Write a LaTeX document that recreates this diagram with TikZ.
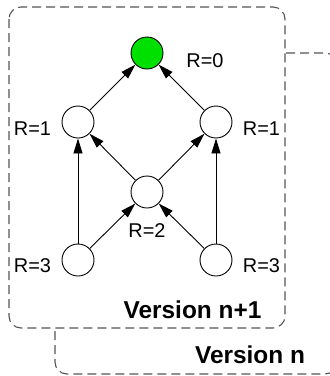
\documentclass[tikz,border=0pt]{standalone}
\usepackage{fontspec}
\setmainfont{Liberation Sans}
\usetikzlibrary{arrows.meta}
\definecolor{boxgray}{HTML}{555555}
\definecolor{nodegreen}{HTML}{00E000}
\begin{document}
\begin{tikzpicture}[x=1bp,y=-1bp,
  vnode/.style={circle,draw=black,line width=0.9bp,fill=white,minimum size=32bp,inner sep=0pt},
  rlabel/.style={font=\fontsize{20}{22}\selectfont,inner sep=0pt,anchor=base},
  vlabel/.style={font=\fontsize{24.5}{26}\selectfont\bfseries,inner sep=0pt,anchor=base},
  vbox/.style={draw=boxgray,line width=1.1bp,dash pattern=on 9bp off 5bp,rounded corners=12bp},
  edge/.style={line width=0.9bp,-{Triangle[length=15bp,width=9bp]}}]
\useasboundingbox (0,0) rectangle (330,376);
\clip (0,0) rectangle (330,376);
\fill[white] (0,0) rectangle (330,376);
% back box
\draw[vbox] (55,53) rectangle (337,374);
% front box
\draw[vbox,fill=white] (9,7) rectangle (285,328);
% nodes
\node[vnode,fill=nodegreen] (top) at (147,53) {};
\node[vnode] (l1) at (78,122) {};
\node[vnode] (r1) at (216,122) {};
\node[vnode] (mid) at (147,192) {};
\node[vnode] (l3) at (78,260) {};
\node[vnode] (r3) at (216,260) {};
% edges
\draw[edge] (l1) -- (top);
\draw[edge] (r1) -- (top);
\draw[edge] (mid) -- (l1);
\draw[edge] (mid) -- (r1);
\draw[edge] (l3) -- (l1);
\draw[edge] (r3) -- (r1);
\draw[edge] (l3) -- (mid);
\draw[edge] (r3) -- (mid);
% labels
\node[rlabel] (t0) at (205,67) {R=0};
\node[rlabel] (tl1) at (32.5,135) {R=1};
\node[rlabel] (tr1) at (261.5,135) {R=1};
\node[rlabel] (t2) at (147,237) {R=2};
\node[rlabel] (tl3) at (32.5,272) {R=3};
\node[rlabel] (tr3) at (261.5,272) {R=3};
\node[vlabel] (vn1) at (192.5,318) {Version n+1};
\node[vlabel] (vn) at (250,363) {Version n};
\end{tikzpicture}
\end{document}
